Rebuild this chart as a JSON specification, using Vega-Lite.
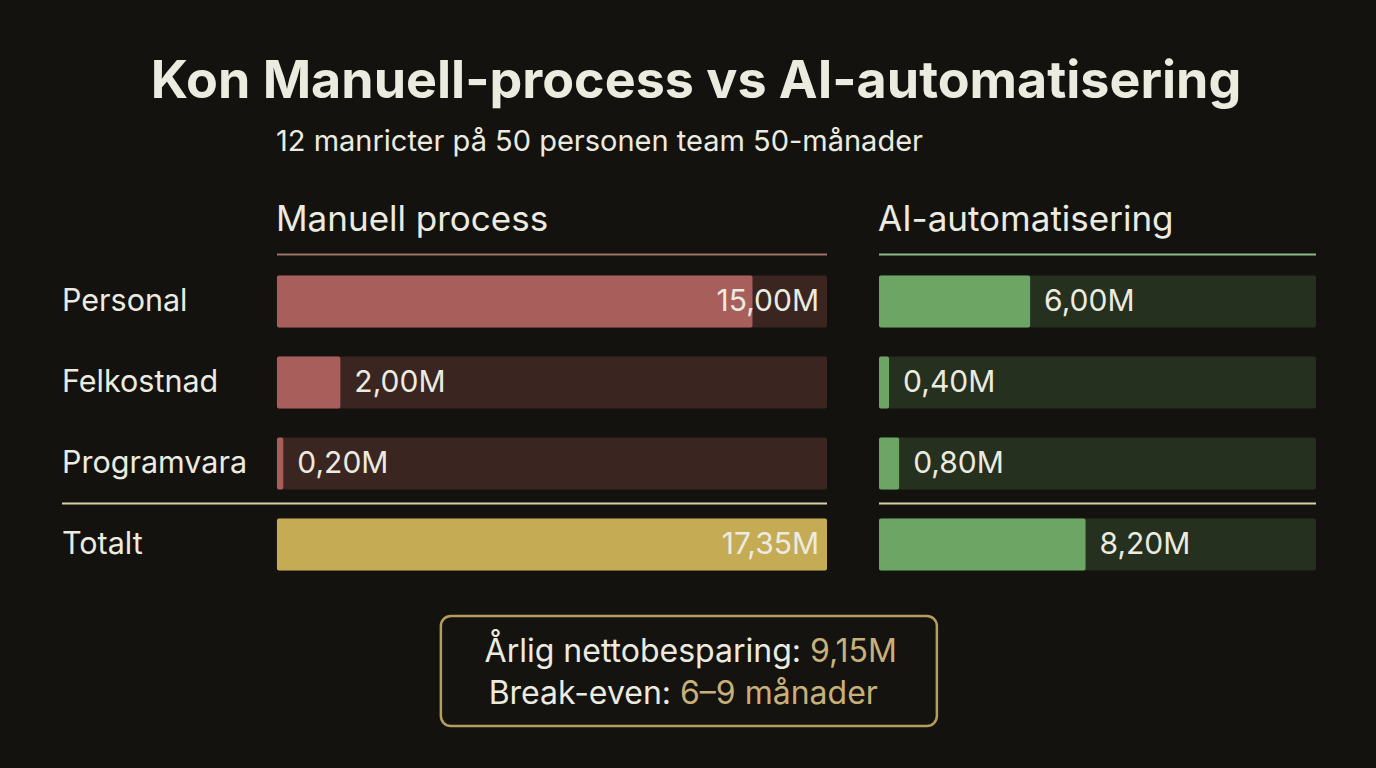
{
  "$schema": "https://vega.github.io/schema/vega-lite/v6.json",
  "background": "#13120e",
  "padding": {"left": 61, "right": 61, "top": 55, "bottom": 44},
  "center": true,
  "spacing": 29,
  "title": {
    "text": "Kon Manuell-process vs AI-automatisering",
    "anchor": "middle",
    "fontSize": 52,
    "fontWeight": "bold",
    "font": "Inter",
    "color": "#ecebe0",
    "offset": 19,
    "dx": 7
  },
  "datasets": {
    "kostnader": [
      {"process": "Manuell process", "kategori": "Personal", "kostnad": 15.0},
      {"process": "Manuell process", "kategori": "Felkostnad", "kostnad": 2.0},
      {"process": "Manuell process", "kategori": "Programvara", "kostnad": 0.2},
      {"process": "Manuell process", "kategori": "Totalt", "kostnad": 17.35},
      {"process": "AI-automatisering", "kategori": "Personal", "kostnad": 6.0},
      {"process": "AI-automatisering", "kategori": "Felkostnad", "kostnad": 0.4},
      {"process": "AI-automatisering", "kategori": "Programvara", "kostnad": 0.8},
      {"process": "AI-automatisering", "kategori": "Totalt", "kostnad": 8.2}
    ],
    "sammanfattning": [
      {"metric": "Årlig nettobesparing:", "value": "9,15M"},
      {"metric": "Break-even:", "value": "6–9 månader"}
    ]
  },
  "vconcat": [
    {
      "bounds": "flush",
      "spacing": 52,
      "hconcat": [
        {
          "width": 765,
          "height": 324,
          "title": {
            "text": "12 manricter på 50 personen team 50-månader",
            "subtitle": "Manuell process",
            "anchor": "start",
            "dx": 215,
            "font": "Inter",
            "fontSize": 29,
            "fontWeight": "normal",
            "color": "#ecebe0",
            "subtitleFont": "Inter",
            "subtitleFontSize": 35,
            "subtitleColor": "#ecebe0",
            "subtitlePadding": 46,
            "offset": 16
          },
          "data": {"name": "kostnader"},
          "transform": [{"filter": "datum.process === 'Manuell process'"}],
          "encoding": {
            "y": {
              "field": "kategori",
              "type": "nominal",
              "sort": ["Personal", "Felkostnad", "Programvara", "Totalt"],
              "scale": {"domain": ["Personal", "Felkostnad", "Programvara", "Totalt"], "paddingInner": 0.36, "paddingOuter": 0.18},
              "axis": null
            }
          },
          "layer": [
            {
              "mark": {"type": "bar", "color": "#3a2521", "cornerRadius": 2},
              "encoding": {
                "x": {"datum": 0, "type": "quantitative", "scale": {"domain": [-6.78, 17.35], "nice": false, "zero": false}, "axis": null},
                "x2": {"datum": 17.35}
              }
            },
            {
              "mark": {"type": "bar", "cornerRadius": 2},
              "encoding": {
                "x": {"field": "kostnad", "type": "quantitative"},
                "x2": {"datum": 0},
                "color": {"condition": {"test": "datum.kategori === 'Totalt'", "value": "#c6ab55"}, "value": "#a85e5a"}
              }
            },
            {
              "mark": {"type": "text", "align": "left", "baseline": "middle", "fontSize": 30.5, "font": "Inter", "fill": "#ecebe0"},
              "encoding": {
                "x": {"datum": -6.78, "type": "quantitative"},
                "text": {"field": "kategori"}
              }
            },
            {
              "transform": [{"filter": "datum.kostnad < 10"}],
              "mark": {"type": "text", "align": "left", "baseline": "middle", "dx": 14, "fontSize": 30, "font": "Inter", "fill": "#ecebe0"},
              "encoding": {
                "x": {"field": "kostnad", "type": "quantitative"},
                "text": {"field": "kostnad", "type": "quantitative", "format": "$.2f"}
              }
            },
            {
              "transform": [{"filter": "datum.kostnad >= 10"}],
              "mark": {"type": "text", "align": "right", "baseline": "middle", "dx": -8, "fontSize": 30, "font": "Inter", "fill": "#ecebe0"},
              "encoding": {
                "x": {"datum": 17.35, "type": "quantitative"},
                "text": {"field": "kostnad", "type": "quantitative", "format": "$.2f"}
              }
            },
            {
              "data": {"values": [{}]},
              "mark": {"type": "rule", "color": "#9c7468", "strokeWidth": 2, "yOffset": -21},
              "encoding": {
                "x": {"datum": 0, "type": "quantitative"},
                "x2": {"datum": 17.35},
                "y": {"datum": "Personal", "type": "nominal", "bandPosition": 0}
              }
            },
            {
              "data": {"values": [{}]},
              "mark": {"type": "rule", "color": "#d8cfa8", "strokeWidth": 2, "yOffset": -15},
              "encoding": {
                "x": {"datum": -6.78, "type": "quantitative"},
                "x2": {"datum": 17.35},
                "y": {"datum": "Totalt", "type": "nominal", "bandPosition": 0}
              }
            }
          ]
        },
        {
          "width": 437,
          "height": 324,
          "title": {
            "text": "AI-automatisering",
            "anchor": "start",
            "font": "Inter",
            "fontSize": 35,
            "fontWeight": "normal",
            "color": "#ecebe0",
            "offset": 16
          },
          "data": {"name": "kostnader"},
          "transform": [{"filter": "datum.process === 'AI-automatisering'"}],
          "encoding": {
            "y": {
              "field": "kategori",
              "type": "nominal",
              "sort": ["Personal", "Felkostnad", "Programvara", "Totalt"],
              "scale": {"domain": ["Personal", "Felkostnad", "Programvara", "Totalt"], "paddingInner": 0.36, "paddingOuter": 0.18},
              "axis": null
            }
          },
          "layer": [
            {
              "mark": {"type": "bar", "color": "#25301f", "cornerRadius": 2},
              "encoding": {
                "x": {"datum": 0, "type": "quantitative", "scale": {"domain": [0, 17.35], "nice": false}, "axis": null},
                "x2": {"datum": 17.35}
              }
            },
            {
              "mark": {"type": "bar", "color": "#6da564", "cornerRadius": 2},
              "encoding": {
                "x": {"field": "kostnad", "type": "quantitative"},
                "x2": {"datum": 0}
              }
            },
            {
              "mark": {"type": "text", "align": "left", "baseline": "middle", "dx": 14, "fontSize": 30, "font": "Inter", "fill": "#ecebe0"},
              "encoding": {
                "x": {"field": "kostnad", "type": "quantitative"},
                "text": {"field": "kostnad", "type": "quantitative", "format": "$.2f"}
              }
            },
            {
              "data": {"values": [{}]},
              "mark": {"type": "rule", "color": "#8fb88a", "strokeWidth": 2, "yOffset": -21},
              "encoding": {
                "x": {"datum": 0, "type": "quantitative"},
                "x2": {"datum": 17.35},
                "y": {"datum": "Personal", "type": "nominal", "bandPosition": 0}
              }
            },
            {
              "data": {"values": [{}]},
              "mark": {"type": "rule", "color": "#d8cfa8", "strokeWidth": 2, "yOffset": -15},
              "encoding": {
                "x": {"datum": 0, "type": "quantitative"},
                "x2": {"datum": 17.35},
                "y": {"datum": "Totalt", "type": "nominal", "bandPosition": 0}
              }
            }
          ]
        }
      ]
    },
    {
      "width": 496,
      "height": 110,
      "view": {"fill": "#15130f", "stroke": "#b59d5e", "strokeWidth": 2.5, "cornerRadius": 10},
      "data": {"name": "sammanfattning"},
      "encoding": {
        "y": {
          "field": "metric",
          "type": "nominal",
          "sort": ["Årlig nettobesparing:", "Break-even:"],
          "scale": {"type": "point", "domain": ["Årlig nettobesparing:", "Break-even:"], "padding": 0.81},
          "axis": null
        }
      },
      "layer": [
        {
          "transform": [{"filter": "datum.metric === 'Årlig nettobesparing:'"}],
          "mark": {"type": "text", "align": "right", "baseline": "middle", "dy": 2, "fontSize": 32, "font": "Inter", "fill": "#ecebe0"},
          "encoding": {
            "x": {"datum": 0.726, "type": "quantitative", "scale": {"domain": [0, 1], "nice": false}, "axis": null},
            "text": {"field": "metric"}
          }
        },
        {
          "transform": [{"filter": "datum.metric === 'Årlig nettobesparing:'"}],
          "mark": {"type": "text", "align": "left", "baseline": "middle", "dy": 2, "dx": 9, "fontSize": 32, "font": "Inter", "fill": "#c8b07a"},
          "encoding": {
            "x": {"datum": 0.726, "type": "quantitative"},
            "text": {"field": "value"}
          }
        },
        {
          "transform": [{"filter": "datum.metric === 'Break-even:'"}],
          "mark": {"type": "text", "align": "right", "baseline": "middle", "dy": 2, "fontSize": 32, "font": "Inter", "fill": "#ecebe0"},
          "encoding": {
            "x": {"datum": 0.464, "type": "quantitative"},
            "text": {"field": "metric"}
          }
        },
        {
          "transform": [{"filter": "datum.metric === 'Break-even:'"}],
          "mark": {"type": "text", "align": "left", "baseline": "middle", "dy": 2, "dx": 9, "fontSize": 32, "font": "Inter", "fill": "#c8b07a"},
          "encoding": {
            "x": {"datum": 0.464, "type": "quantitative"},
            "text": {"field": "value"}
          }
        }
      ]
    }
  ],
  "config": {
    "view": {"stroke": null},
    "font": "Inter",
    "locale": {
      "number": {"decimal": ",", "thousands": " ", "grouping": [3], "currency": ["", "M"]}
    }
  }
}
